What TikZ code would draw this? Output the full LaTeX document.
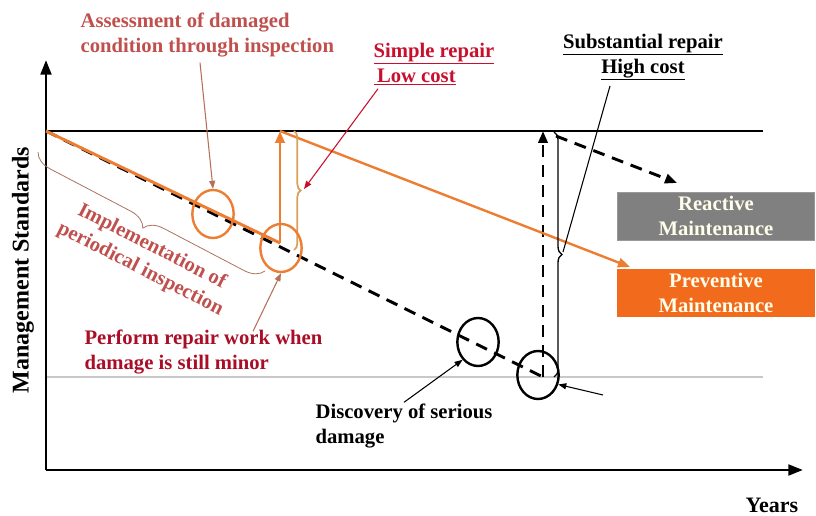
\documentclass[tikz,border=0pt]{standalone}
\usepackage{fontspec}
\setmainfont{Liberation Serif}
\usepackage{xcolor}
\usetikzlibrary{shapes.geometric, arrows.meta, positioning, calc, decorations.pathreplacing}
\definecolor{mtorange}{HTML}{ED7D31}
\definecolor{mtbox}{HTML}{F26B1D}
\definecolor{mtgray}{HTML}{808080}
\definecolor{mtred}{HTML}{C0504D}
\definecolor{mtdeep}{HTML}{C8102E}
\definecolor{mtbrown}{HTML}{B5705A}
\definecolor{mttan}{HTML}{D9A05B}
\definecolor{mtline}{HTML}{C8C8C8}

\begin{document}
\begin{tikzpicture}[
    x=0.75pt, y=-0.75pt,
    every node/.style={font=\bfseries\fontsize{15.5}{18.8}\selectfont, inner sep=1pt},
    axis/.style={line width=2.2pt, -{Triangle[length=11pt, width=8pt]}},
    level/.style={line width=0.8pt},
    decline/.style={line width=2.2pt, dash pattern=on 9pt off 6pt},
    orangeline/.style={line width=2.2pt, mtorange},
    ring/.style={ellipse, draw, line width=1.8pt, minimum width=31pt, minimum height=36pt, inner sep=0pt},
    ptr/.style={-{Triangle[length=6pt, width=4.5pt]}, line width=0.8pt},
    bigtip/.style={-{Triangle[length=9pt, width=7pt]}},
    mbox/.style={rectangle, minimum width=148pt, minimum height=36pt, text=white!92!yellow, align=center, inner sep=0pt},
    note/.style={text=mtred, align=center}
]
\useasboundingbox (0,0) rectangle (816,516);

% Axes and levels
\coordinate (O) at (46,470);
\coordinate (ytop) at (46,60);
\coordinate (xend) at (803,470);
\coordinate (std0) at (46,131);
\coordinate (std1) at (763,131);
\coordinate (min0) at (46,377);
\coordinate (min1) at (763,377);
\draw[level] (std0) -- (std1);
\draw[level, mtline, line width=1.5pt] (min0) -- (min1);
\draw[axis] (O) -- (ytop);
\draw[axis] (O) -- (xend);

% Key points
\coordinate (rep0) at (280,243);
\coordinate (rep1) at (280,131);
\coordinate (prevtip) at (630,267);
\coordinate (low) at (543,377);
\coordinate (high) at (543,131);
\coordinate (reac0) at (556,136);
\coordinate (reactip) at (677,183);
\coordinate (simptip) at (304,189);
\coordinate (substtip) at (563,252);
\coordinate (late) at (603,395);

% Reactive path
\draw[decline] (std0) -- (low);
\draw[decline, bigtip] (low) -- (high);
\draw[decline, bigtip] (reac0) -- (reactip);

% Preventive path
\draw[orangeline] (std0) -- (rep0);
\draw[orangeline, bigtip] (rep0) -- (rep1);
\draw[orangeline, line width=1.8pt, bigtip] (rep1) -- (prevtip);

% Braces
\draw[decorate, decoration={brace, amplitude=14pt}, line width=0.6pt, mtbrown!80!gray] (265,271) -- (38,152);
\draw[decorate, decoration={brace, amplitude=5pt}, line width=1.3pt, mttan] (294,131) -- (294,250);
\draw[decorate, decoration={brace, amplitude=6pt}, line width=1pt] (554,132) -- (554,377);

% Circles
\node[ring, mtorange] (c1) at (213,214) {};
\node[ring, mtorange] (c2) at (281,248) {};
\node[ring] (c3) at (478,342) {};
\node[ring] (c4) at (538,375) {};

% Boxes
\node[mbox, fill=mtgray, draw=mtgray!80] (reactive) at (716,216) {Reactive\\Maintenance};
\node[mbox, fill=mtbox] (preventive) at (716,293) {Preventive\\Maintenance};

% Labels
\node[note, align=left, anchor=west] (assess) at (79,35) {Assessment of damaged\\condition through inspection};
\node[text=mtdeep, align=left, anchor=west] (simple) at (372,64) {\underline{Simple repair}\\\underline{\,Low cost}};
\node[align=center] (subst) at (643,57) {\underline{Substantial repair}\\\underline{High cost}};
\node[note, rotate=-27] (implem) at (146,258) {Implementation of\\periodical inspection};
\node[text=mtdeep!85!black, align=left, anchor=west] (perform) at (83,352) {Perform repair work when\\damage is still minor};
\node[align=left, anchor=west] (disc) at (314,426) {Discovery of serious\\damage};
\node[font=\bfseries\fontsize{18}{20}\selectfont, rotate=90] (mgmt) at (23,270) {Management Standards};
\node[font=\bfseries\fontsize{16.5}{20}\selectfont] (years) at (772,505) {Years};

% Pointers
\draw[ptr, mtbrown] ($(assess.south west)+(121,4)$) -- (c1.north);
\draw[ptr, mtdeep] ($(simple.south west)+(6,2)$) -- (simptip);
\draw[line width=0.8pt] ($(subst.south)+(-33,4)$) -- (substtip);
\draw[ptr, mtbrown] ($(perform.north west)+(170,3)$) -- (c2.south);
\draw[ptr] (disc.north) -- (c3.south west);
\draw[ptr] (late) -- (c4.-25);

\end{tikzpicture}
\end{document}
